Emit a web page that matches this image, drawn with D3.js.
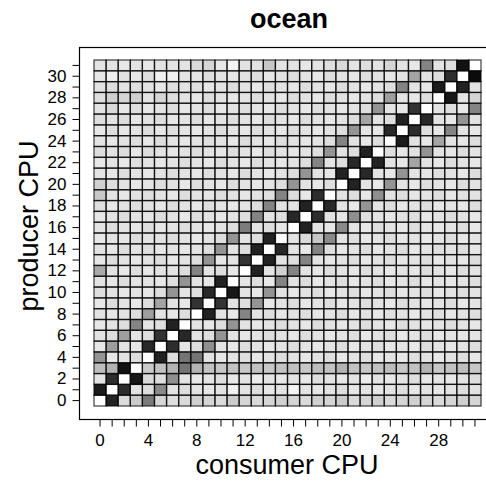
<!DOCTYPE html>
<html>
<head>
<meta charset="utf-8">
<script src="https://cdn.jsdelivr.net/npm/d3@7"></script>
<style>
  body { margin: 0; background: #fff; }
  text { font-family: "Liberation Sans", Arial, sans-serif; fill: #000; }
</style>
</head>
<body>
<script>
const w = 486;
const h = 481;

const cpus = [0,1,2,3,4,5,6,7,8,9,10,11,12,13,14,15,16,17,18,19,20,21,22,23,24,25,26,27,28,29,30,31];
const xTicks = [0,4,8,12,16,20,24,28];
const yTicks = [0,2,4,6,8,10,12,14,16,18,20,22,24,26,28,30];

// darkness of each cell (0 = white, 100 = black), one row per producer CPU 0..31,
// one value per consumer CPU 0..31
const shade = [
  [ 0,88,18,24,56,20,16,18,22,20,18,24,20,18,20,22,20,18,22,20,24,18,20,22,18,20,22,20,18,20,22,20],
  [90, 0,84,14,16,50,14,16,14,12,14, 8,14,16,12,14, 6,14,12,14,16,12,14,12,14,16,12,14,12,14,16,14],
  [14,84, 0,92,18,16,48,14,12,14,16,12,14,10,14,12,14,12,16,14,12,14,10,14,12,14,16,12,14,12,14,16],
  [30,34,94, 0,24,28,34,58,34,28,26,28,26,28,26,28,28,26,30,28,34,28,26,28,30,26,28,34,26,28,30,26],
  [46,12,14,16, 0,88,16,58,58,14,12,14,16,12,14,16,14,12,14,16,12,14,16,12,14,12,16,14,12,14,16,12],
  [12,42,14,12,86, 0,84,14,16,48,14,12,16,14,12,14,16,14,12,14,16,12,14,16,12,14,12,16,14,12,14,16],
  [14,16,42,14,16,82, 0,86,14,16,46,14,12,14,16,14,12,16,14,12,14,16,12,14,16,12,14,16,12,14,12,14],
  [12,14,16,52,14,16,88, 0,14,12,16,46,14,12,14,16,14,12,16,14,12,14,16,14,12,16,14,12,14,16,14,12],
  [14,12,14,16,42,14,12,16, 0,88,14,12,52,14,16,12,14,16,12,14,16,12,14,12,16,14,12,14,16,12,14,16],
  [12,16,14,12,16,40,14,12,82, 0,82,14,16,46,12,14,16,12,14,16,12,14,16,14,12,16,14,12,14,16,12,14],
  [16,14,12,14,12,16,46,14,16,86, 0,92,14,12,46,14,12,14,16,12,14,16,12,14,16,12,14,16,12,14,16,14],
  [14,12,16,14,14,12,16,46,14,12,88, 0,14,16,12,52,14,16,12,14,16,12,14,16,12,14,16,12,14,12,14,16],
  [38,14,12,16,12,14,14,16,52,14,16,12, 0,88,14,22,52,14,12,16,14,12,16,14,12,14,12,16,14,12,16,14],
  [12,16,14,12,14,16,12,14,16,46,12,14,82, 0,88,14,16,52,14,12,14,16,12,14,16,12,14,16,12,14,12,16],
  [14,12,16,14,16,12,14,12,14,16,46,14,16,88, 0,86,14,12,52,16,12,14,16,12,14,16,12,14,16,14,16,12],
  [12,14,12,16,14,14,16,14,12,14,16,46,14,16,88, 0,14,18,26,50,14,16,12,14,16,12,14,12,14,16,12,14],
  [14,16,14,12,16,12,14,16,14,12,14,16,55,14,16,12, 0,88,14,12,50,14,12,16,14,12,16,14,12,14,16,12],
  [12,14,16,14,12,16,14,12,16,14,12,14,16,52,14,16,86, 0,84,14,12,48,16,14,12,14,16,12,14,16,14,12],
  [16,12,14,16,14,12,16,14,12,16,14,12,14,16,52,14,14,88, 0,86,14,12,46,14,16,12,14,16,12,14,12,16],
  [26,14,12,14,16,14,12,16,14,12,16,14,12,14,16,52,16,12,84, 0,14,16,12,48,14,16,12,14,16,12,14,14],
  [22,16,14,12,14,16,14,12,16,14,12,16,14,12,14,16,46,14,12,16, 0,88,14,12,46,14,12,16,14,12,16,14],
  [14,12,16,14,12,14,16,14,12,16,14,12,16,14,12,14,16,46,14,12,88, 0,86,14,12,46,14,12,16,14,12,16],
  [12,14,12,16,14,12,14,16,14,12,16,14,12,16,14,12,14,16,52,14,16,86, 0,88,14,12,40,14,12,16,14,12],
  [16,14,16,12,16,14,12,14,16,14,12,16,14,12,16,14,12,14,16,46,14,16,88, 0,16,12,14,46,14,12,16,14],
  [14,12,14,16,12,16,14,12,14,16,14,12,16,14,12,16,14,12,14,16,52,14,12,16, 0,90,14,12,40,14,12,16],
  [12,16,12,14,16,12,16,14,12,14,16,14,12,16,14,12,16,14,12,14,16,46,14,12,86, 0,84,16,12,52,14,12],
  [16,14,16,12,14,16,12,14,16,12,14,16,14,12,16,14,12,16,14,12,14,16,40,14,16,88, 0,86,14,12,46,14],
  [14,18,12,16,12,14,16,12,14,16,12,14,16,14,12,16,14,12,16,14,12,14,16,46,14,12,82, 0,14,16,12,52],
  [16,22,20,22,14,20,16,14,12,16,14,12,14,16,14,12,16,14,12,16,14,12,14,16,42,14,12,16, 0,92,14,20],
  [14,16,14,16,14,12,16,14,16,12,14,16,14,12,16,14,12,16,14,12,16,14,12,14,16,52,14,12,90, 0,88,14],
  [12, 8,14,12,16, 8, 8,14,12,16,14,12,14,16,12,14,16,14,12,16,14,12,16,14,12,14,40,14,16,84, 0,96],
  [14,14,12,14,12,14,14,14,18,20,12, 6,14,14,26,14,14,12,14,16,18,14,16,14,20,14,12,52,14,16,94, 0]
];

const cells = [];
shade.forEach((row, p) => row.forEach((v, c) => cells.push({producer: p, consumer: c, value: v})));

const svg = d3.select("body")
  .append("svg")
  .attr("width", w)
  .attr("height", h);

// outer panel box (runs off the right edge like the original)
svg.append("rect")
  .attr("x", 79.5).attr("y", 47.5)
  .attr("width", 417).attr("height", 372)
  .attr("fill", "none")
  .attr("stroke", "#000")
  .attr("stroke-width", 1.2);

const xScale = d3.scaleBand().domain(cpus).range([94, 481]);
const yScale = d3.scaleBand().domain(cpus).range([406, 60]);
const gray = d3.scalePow().exponent(1.12).domain([0, 100]).range(["#ffffff", "#000000"]);

svg.append("g").selectAll("rect").data(cells).enter().append("rect")
  .attr("x", d => xScale(d.consumer))
  .attr("y", d => yScale(d.producer))
  .attr("width", xScale.bandwidth())
  .attr("height", yScale.bandwidth())
  .attr("fill", d => gray(d.value));

// borders drawn after the fills so shared edges come out darker
svg.append("g").selectAll("rect").data(cells).enter().append("rect")
  .attr("x", d => xScale(d.consumer))
  .attr("y", d => yScale(d.producer))
  .attr("width", xScale.bandwidth())
  .attr("height", yScale.bandwidth())
  .attr("fill", "none")
  .attr("stroke", "#000")
  .attr("stroke-opacity", 0.7)
  .attr("stroke-width", 1.3);

const xAxis = d3.axisBottom(xScale)
  .tickSize(7).tickSizeOuter(0).tickPadding(7)
  .tickFormat(d => xTicks.includes(d) ? d : "");
const gx = svg.append("g").attr("transform", "translate(0,419.5)").call(xAxis);

const yAxis = d3.axisLeft(yScale)
  .tickSize(7).tickSizeOuter(0).tickPadding(6)
  .tickFormat(d => yTicks.includes(d) ? d : "");
const gy = svg.append("g").attr("transform", "translate(79.5,0)").call(yAxis);

[gx, gy].forEach(g => {
  g.select(".domain").remove();
  g.selectAll("line").attr("stroke", "#000");
  g.selectAll("text").style("font-family", "'Liberation Sans', Arial, sans-serif").style("font-size", "17px");
});

svg.append("text")
  .attr("x", 289).attr("y", 28)
  .attr("text-anchor", "middle")
  .style("font-size", "27px").style("font-weight", "bold")
  .text("ocean");

svg.append("text")
  .attr("x", 287).attr("y", 474)
  .attr("text-anchor", "middle")
  .style("font-size", "27px")
  .text("consumer CPU");

svg.append("text")
  .attr("transform", "translate(38,226) rotate(-90)")
  .attr("text-anchor", "middle")
  .style("font-size", "27px")
  .text("producer CPU");
</script>
</body>
</html>
